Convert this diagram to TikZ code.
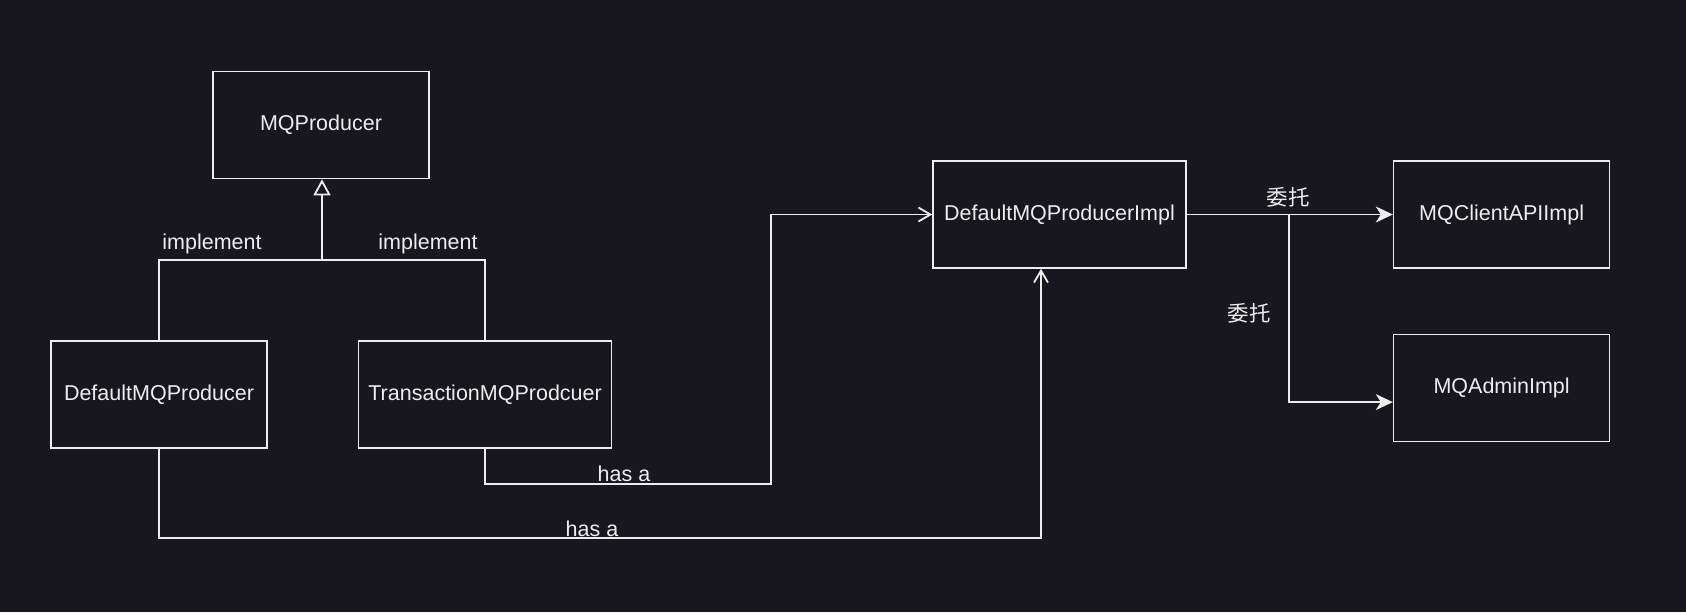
\documentclass[tikz,border=0pt]{standalone}
\usepackage{fontspec}
\setmainfont{Liberation Sans}
\newfontfamily\cjk{Noto Sans CJK SC}
\usepackage{xcolor}
\usetikzlibrary{arrows.meta,positioning}
\definecolor{bgdark}{HTML}{18161E}
\definecolor{linegray}{HTML}{EDEDED}

\begin{document}
\begin{tikzpicture}[x=0.5pt, y=-0.5pt, node distance=32.5pt and 45pt,
  every node/.style={font=\fontsize{10.75}{13}\selectfont, text=linegray},
  box/.style={draw=linegray, line width=0.8pt, minimum width=108pt, minimum height=53.5pt, inner sep=0pt},
  widebox/.style={box, minimum width=126.5pt},
  link/.style={draw=linegray, line width=0.9pt},
  inherit/.style={link, -{Triangle[open, length=8pt, width=8.5pt]}},
  hasa/.style={link, -{Straight Barb[length=6pt, width=7pt]}},
  deleg/.style={link, -{Stealth[length=8.5pt, width=8pt, inset=2.5pt]}}]
\fill[bgdark] (0,0) rectangle (1686,612);
\useasboundingbox (0,0) rectangle (1686,612);

\node[box] (prod) at (321,125) {MQProducer};
\node[box] (dmp) at (159,394.5) {DefaultMQProducer};
\node[widebox, right=45pt of dmp] (tmp) {TransactionMQProdcuer};
\node[widebox] (impl) at (1059.5,214.5) {DefaultMQProducerImpl};
\node[box, right=103pt of impl] (api) {MQClientAPIImpl};
\node[box, below=of api] (admin) {MQAdminImpl};

% implement
\coordinate (join) at (322,260);
\draw[link] (tmp.north) |- (join);
\draw[inherit] (dmp.north) |- (join) -- (prod.south -| join);
\node (implL) at (212,244) {implement};
\node (implR) at (428,244) {implement};

% has a
\coordinate (bendA) at (771,484);
\coordinate (bendB) at (1041,538);
\draw[hasa] (tmp.south) |- (bendA) |- (impl.west);
\draw[hasa] (dmp.south) |- (bendB) -- (bendB |- impl.south);
\node (hasA) at (624,474) {has a};
\node (hasB) at (592,529) {has a};

% delegation
\coordinate (split) at (1289,215);
\draw[deleg] (impl.east) -- (api.west);
\draw[deleg] (split) |- ([yshift=-7pt]admin.west);
\node (delA) at (1288,197) {\cjk 委托};
\node (delB) at (1249,313) {\cjk 委托};
\end{tikzpicture}
\end{document}
